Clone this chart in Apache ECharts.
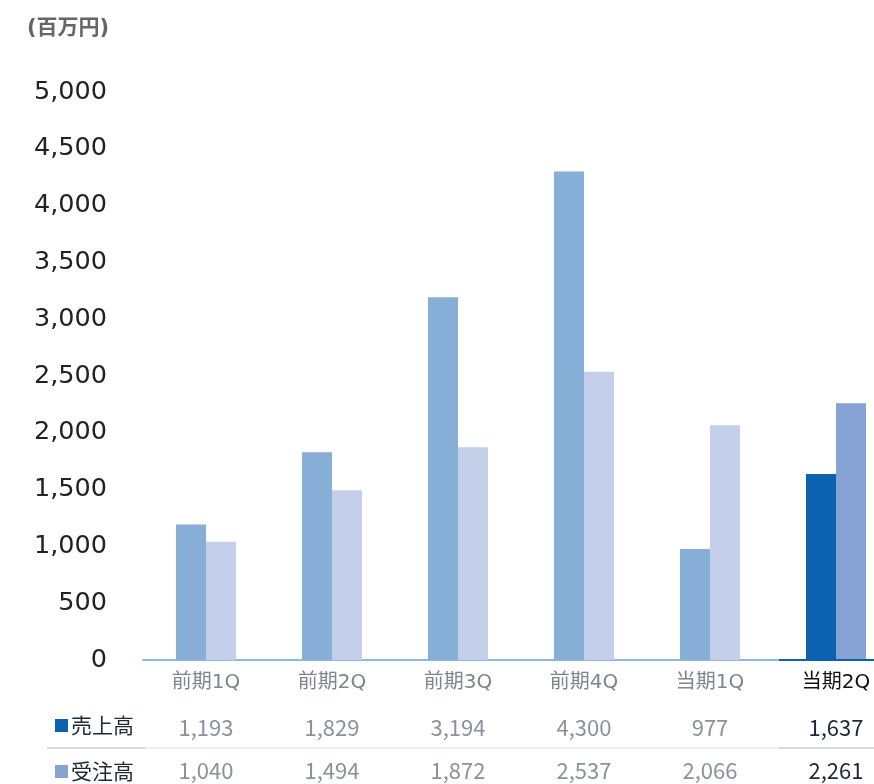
<!DOCTYPE html>
<html><head><meta charset="utf-8">
<script src="https://cdn.jsdelivr.net/npm/echarts@6/dist/echarts.min.js"></script>
<style>html,body{margin:0;padding:0;background:#fff}#c{width:874px;height:784px}</style>
</head><body><div id="c"></div>
<script>
const categories = ['前期1Q','前期2Q','前期3Q','前期4Q','当期1Q','当期2Q'];
const sales = [1193, 1829, 3194, 4300, 977, 1637];
const orders = [1040, 1494, 1872, 2537, 2066, 2261];
const seriesNames = ['売上高', '受注高'];
const unitLabel = '(百万円)';

const CJK = '"Noto Sans CJK JP", sans-serif';
const LAT = '"DejaVu Sans", "Noto Sans CJK JP", sans-serif';
const fmt = v => v.toLocaleString('en-US');
const chart = echarts.init(document.getElementById('c'));
const last = categories.length - 1;

function tableAxis(values, offset) {
  return {
    type: 'category', data: categories, position: 'bottom', offset: offset,
    axisLine: {show: false}, axisTick: {show: false},
    axisLabel: {
      margin: 0, interval: 0,
      formatter: (v, i) => (i === last ? '{d|' : '{g|') + fmt(values[i]) + '}',
      rich: {
        g: {fontSize: 22, color: '#8a929c', fontFamily: CJK},
        d: {fontSize: 22, color: '#1d2838', fontFamily: CJK}
      }
    }
  };
}

chart.setOption({
  animation: false,
  title: {text: unitLabel, left: 22, top: 13,
    textStyle: {fontSize: 21, fontWeight: 'bold', color: '#666', fontFamily: LAT}},
  legend: {
    data: seriesNames, orient: 'vertical', left: 55, top: 715, height: 150, padding: 0,
    icon: 'rect', itemWidth: 13, itemHeight: 13, itemGap: 25,
    textStyle: {fontSize: 21, color: '#1d2838', fontFamily: CJK, padding: [0, 0, 0, -2]},
    selectedMode: false
  },
  grid: {left: 143, width: 756, top: 92, bottom: 124, containLabel: false, outerBoundsMode: 'none'},
  xAxis: [
    {
      type: 'category', data: categories,
      axisLine: {lineStyle: {color: '#8db8e2', width: 2}},
      axisTick: {show: false},
      axisLabel: {
        margin: 13, interval: 0,
        formatter: (v, i) => (i === last ? '{d|' : '{g|') + v + '}',
        rich: {
          g: {fontSize: 20, color: '#7d858f', fontFamily: LAT},
          d: {fontSize: 20, color: '#111', fontFamily: LAT}
        }
      }
    },
    tableAxis(sales, 57),
    tableAxis(orders, 100)
  ],
  yAxis: {
    type: 'value', min: 0, max: 5000, interval: 500,
    axisLine: {show: false}, axisTick: {show: false}, splitLine: {show: false},
    axisLabel: {margin: 36, fontSize: 25.5, color: '#222', fontFamily: '"DejaVu Sans", sans-serif',
      padding: [3, 0, 0, 0], formatter: v => fmt(v)}
  },
  series: [
    {
      name: seriesNames[0], type: 'bar', barWidth: 30, barGap: '0%',
      itemStyle: {color: '#0d62af'},
      data: sales.map((v, i) => ({value: v, itemStyle: {color: i === last ? '#0d62af' : '#86aed7'}}))
    },
    {
      name: seriesNames[1], type: 'bar', barWidth: 30,
      itemStyle: {color: '#87a2d5'},
      data: orders.map((v, i) => ({value: v, itemStyle: {color: i === last ? '#87a2d5' : '#c4d0e9'}}))
    }
  ]
});

// decorations derived from the axis scale
const cLast = chart.convertToPixel({xAxisIndex: 0}, categories[last]);
const cPrev = chart.convertToPixel({xAxisIndex: 0}, categories[last - 1]);
const y0 = chart.convertToPixel({yAxisIndex: 0}, 0);
const bandStart = (cLast + cPrev) / 2 + 6;
const sepY = y0 + 88;
chart.setOption({
  graphic: [
    {type: 'line', shape: {x1: bandStart, y1: y0, x2: 874, y2: y0}, style: {stroke: '#0d62af', lineWidth: 2}, z: 100},
    {type: 'line', shape: {x1: 47, y1: sepY, x2: 874, y2: sepY}, style: {stroke: '#eeeeee', lineWidth: 2}},
    {type: 'line', shape: {x1: 47, y1: sepY, x2: 145, y2: sepY}, style: {stroke: '#d9d9d9', lineWidth: 2}},
    {type: 'line', shape: {x1: bandStart, y1: sepY, x2: 874, y2: sepY}, style: {stroke: '#d9d9d9', lineWidth: 2}}
  ]
});
</script></body></html>
